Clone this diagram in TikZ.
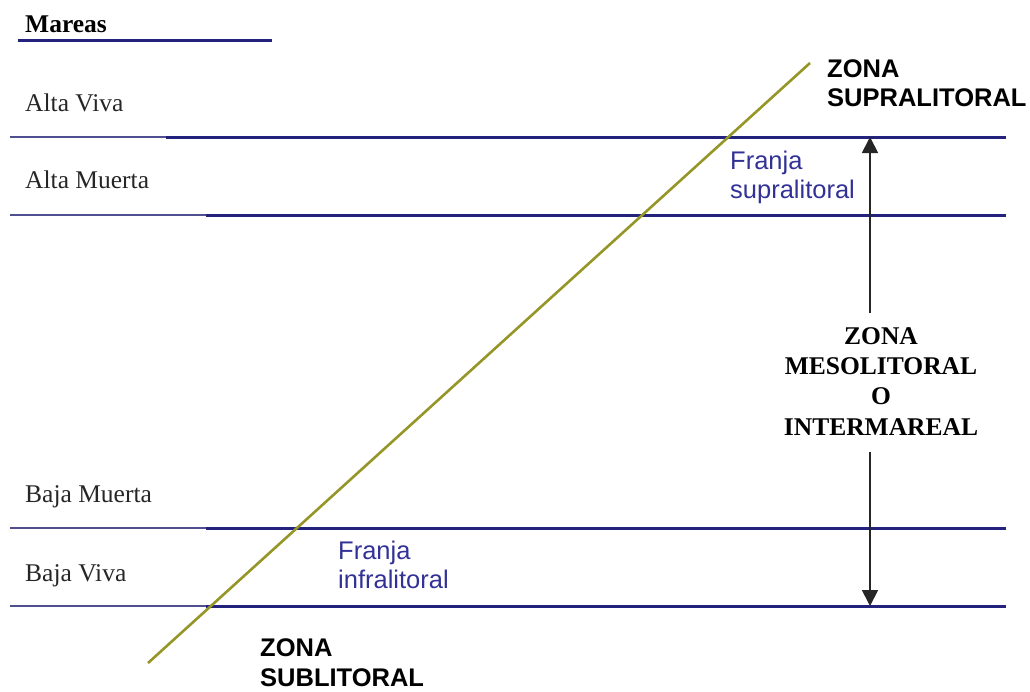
\documentclass[tikz,border=0pt]{standalone}
\usepackage{fontspec}
\setmainfont{Liberation Serif}
\setsansfont{Liberation Sans}
\usetikzlibrary{arrows.meta}
\definecolor{navy}{RGB}{35,35,125}
\definecolor{navylight}{RGB}{80,80,145}
\definecolor{bluetext}{RGB}{50,50,150}
\definecolor{olive}{RGB}{150,150,40}
\tikzset{
  serif/.style={font=\fontsize{25.5}{29}\selectfont\rmfamily, inner sep=0pt, text=black!85},
  serifbold/.style={font=\fontsize{25.5}{29}\selectfont\rmfamily\bfseries, inner sep=0pt, text=black},
  sansbold/.style={font=\fontsize{25.5}{29}\selectfont\sffamily\bfseries, inner sep=0pt, text=black},
  sansblue/.style={font=\fontsize{25.5}{29}\selectfont\sffamily, inner sep=0pt, text=bluetext},
  thick line/.style={draw=navy, line width=3pt},
  thin line/.style={draw=navylight, line width=2pt},
  beach/.style={draw=olive, line width=2.6pt},
  zonearrow/.style={draw=black!85, line width=1.8pt, -{Triangle[width=16pt,length=16pt]}}
}
\begin{document}
\begin{tikzpicture}[x=1pt,y=-1pt]
\useasboundingbox (0,0) rectangle (1030,691);
% tide labels
\node[serifbold, anchor=base west] (mareas) at (25,32.5) {Mareas};
\draw[thick line] (18,40) -- (272,40);
\node[serif, anchor=base west] (altaviva) at (25,111.5) {Alta Viva};
\node[serif, anchor=base west] (altamuerta) at (25,188.5) {Alta Muerta};
\node[serif, anchor=base west] (bajamuerta) at (25,502.5) {Baja Muerta};
\node[serif, anchor=base west] (bajaviva) at (25,581.5) {Baja Viva};
% horizontal tide lines
\draw[thin line] (10,137) -- (166,137);
\draw[thick line] (166,137) -- (1006,137);
\draw[thin line] (10,215) -- (206,215);
\draw[thick line] (206,215) -- (1006,215);
\draw[thin line] (10,528) -- (206,528);
\draw[thick line] (206,528) -- (1006,528);
\draw[thin line] (10,606) -- (206,606);
\draw[thick line] (206,606) -- (1006,606);
% shore line
\coordinate (shoreA) at (148,663);
\coordinate (shoreB) at (810,63);
\draw[beach] (shoreA) -- (shoreB);
% zone labels
\node[sansbold, anchor=base west] (sup1) at (827,77) {ZONA};
\node[sansbold, anchor=base west] (sup2) at (827,106) {SUPRALITORAL};
\node[sansblue, anchor=base west] (fs1) at (730,169) {Franja};
\node[sansblue, anchor=base west] (fs2) at (730,198) {supralitoral};
\node[sansblue, anchor=base west] (fi1) at (338,559) {Franja};
\node[sansblue, anchor=base west] (fi2) at (338,588) {infralitoral};
\node[sansbold, anchor=base west] (sub1) at (260,656) {ZONA};
\node[sansbold, anchor=base west] (sub2) at (260,686) {SUBLITORAL};
% meso zone
\node[serifbold, anchor=base] (meso1) at (881,344.5) {ZONA};
\node[serifbold, anchor=base] (meso2) at (881,374) {MESOLITORAL};
\node[serifbold, anchor=base] (meso3) at (881,404.5) {O};
\node[serifbold, anchor=base] (meso4) at (881,435) {INTERMAREAL};
\coordinate (arrTopStart) at (870,313);
\coordinate (arrTop) at (870,137);
\coordinate (arrBotStart) at (870,452);
\coordinate (arrBot) at (870,606);
\draw[zonearrow] (arrTopStart) -- (arrTop);
\draw[zonearrow] (arrBotStart) -- (arrBot);
\end{tikzpicture}
\end{document}
